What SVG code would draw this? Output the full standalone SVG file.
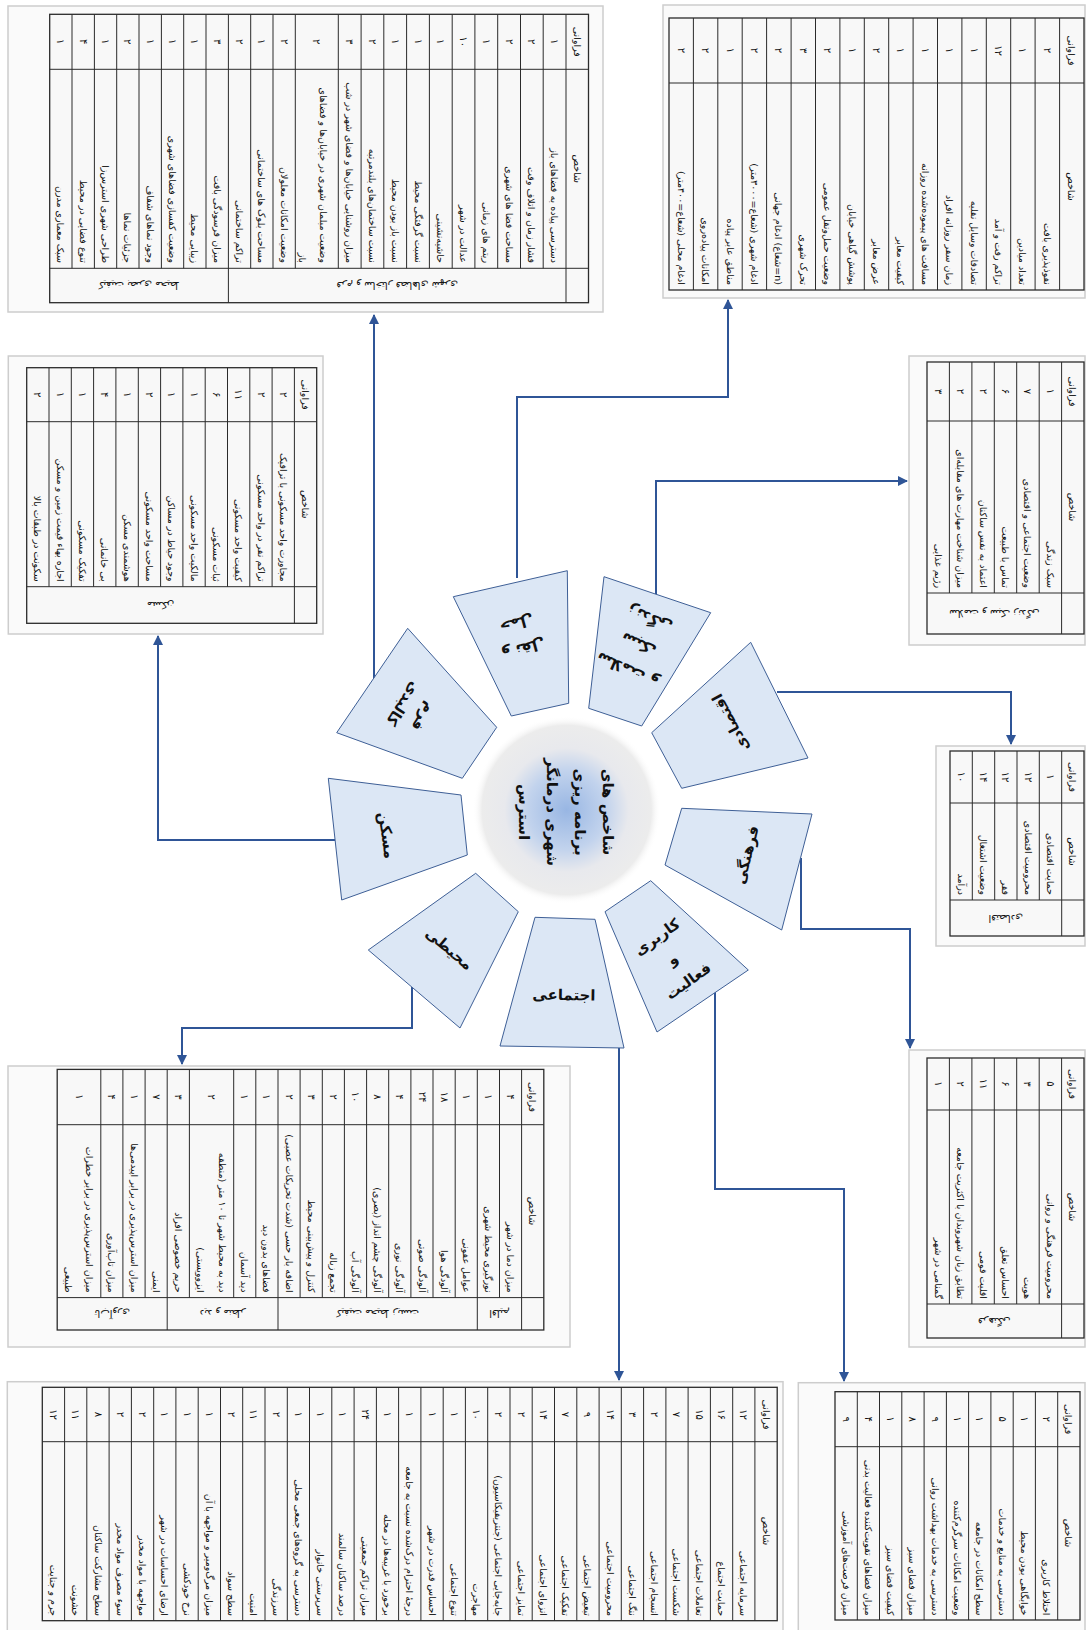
<svg xmlns="http://www.w3.org/2000/svg" width="1086" height="1630" viewBox="0 0 1086 1630">
<style>
.fr{fill:#fafafa;stroke:#cdcdcd;stroke-width:1.5}
.tb{fill:#f8f8f8;stroke:#2b2b2b;stroke-width:1.3}
.ln{fill:none;stroke:#2b2b2b;stroke-width:1}
text{font-family:'DejaVu Sans',sans-serif;fill:#111}
.v{font-size:10px;text-anchor:middle;dominant-baseline:central}
.l{font-size:9.5px;text-anchor:end;dominant-baseline:central}
.h{font-size:9.5px;text-anchor:middle;dominant-baseline:central}
.g{font-size:10px;text-anchor:middle;dominant-baseline:central}
.nd{fill:#dce7f5;stroke:#3e5f96;stroke-width:1}
.nl{font-size:15px;font-weight:bold;text-anchor:middle;dominant-baseline:central}
.ct{font-size:15px;font-weight:bold;text-anchor:middle;dominant-baseline:central}
.cn{fill:none;stroke:#2f5597;stroke-width:2;marker-end:url(#ar)}
</style>
<defs>
<marker id="ar" markerUnits="userSpaceOnUse" markerWidth="11" markerHeight="11" refX="9" refY="5" orient="auto">
<path d="M0,0 L10,5 L0,10 z" fill="#2f5597"/>
</marker>
<radialGradient id="cg" cx="0.5" cy="0.5" r="0.5">
<stop offset="0" stop-color="#98b6e3"/>
<stop offset="0.42" stop-color="#c2d3ed"/>
<stop offset="0.66" stop-color="#e8e9ed"/>
<stop offset="0.9" stop-color="#ececec"/>
<stop offset="1" stop-color="#ffffff" stop-opacity="0"/>
</radialGradient>
</defs>

<g id="connectors">
<path class="cn" d="M374,678 V315"/>
<path class="cn" d="M517,578 V397 H728 V300"/>
<path class="cn" d="M656,594 V481 H907"/>
<path class="cn" d="M777,692 H1011 V744"/>
<path class="cn" d="M801,858 V929 H910 V1048"/>
<path class="cn" d="M715,992 V1189 H844 V1381"/>
<path class="cn" d="M619,1048 V1380"/>
<path class="cn" d="M412,987 V1028 H182 V1064"/>
<path class="cn" d="M335,840 H158 V636"/>
</g>

<!-- T1 top-left -->
<g id="table-kalbadi">
<rect class="fr" x="8" y="6" width="595" height="306"/>
<rect class="tb" x="49.7" y="14.3" width="538.8" height="288.4"/>
<path class="ln" d="M72,14.3V268.3M94.4,14.3V268.3M116.7,14.3V268.3M139,14.3V268.3M161.4,14.3V268.3M183.7,14.3V268.3M206,14.3V268.3M228.4,14.3V302.7M250.7,14.3V268.3M273,14.3V268.3M295.3,14.3V268.3M338.3,14.3V268.3M361.1,14.3V268.3M383.8,14.3V268.3M406.6,14.3V268.3M429.4,14.3V268.3M452.2,14.3V268.3M474.9,14.3V268.3M497.7,14.3V268.3M520.5,14.3V268.3M543.2,14.3V268.3M566,14.3V302.7M49.7,69.3H588.5M49.7,268.3H588.5"/>
<text class="h" transform="translate(577.3 41.8) rotate(90)">فراوانی</text>
<text class="h" transform="translate(577.3 168.8) rotate(90)">شاخص</text>
<text class="v" transform="translate(60.9 41.8) rotate(90)">۱</text>
<text class="v" transform="translate(83.2 41.8) rotate(90)">۴</text>
<text class="v" transform="translate(105.6 41.8) rotate(90)">۱</text>
<text class="v" transform="translate(127.9 41.8) rotate(90)">۲</text>
<text class="v" transform="translate(150.2 41.8) rotate(90)">۱</text>
<text class="v" transform="translate(172.6 41.8) rotate(90)">۱</text>
<text class="v" transform="translate(194.9 41.8) rotate(90)">۱</text>
<text class="v" transform="translate(217.2 41.8) rotate(90)">۳</text>
<text class="v" transform="translate(239.6 41.8) rotate(90)">۲</text>
<text class="v" transform="translate(261.9 41.8) rotate(90)">۱</text>
<text class="v" transform="translate(284.2 41.8) rotate(90)">۲</text>
<text class="v" transform="translate(316.8 41.8) rotate(90)">۲</text>
<text class="v" transform="translate(349.7 41.8) rotate(90)">۳</text>
<text class="v" transform="translate(372.5 41.8) rotate(90)">۲</text>
<text class="v" transform="translate(395.2 41.8) rotate(90)">۱</text>
<text class="v" transform="translate(418 41.8) rotate(90)">۱</text>
<text class="v" transform="translate(440.8 41.8) rotate(90)">۱</text>
<text class="v" transform="translate(463.6 41.8) rotate(90)">۱۰</text>
<text class="v" transform="translate(486.3 41.8) rotate(90)">۱</text>
<text class="v" transform="translate(509.1 41.8) rotate(90)">۲</text>
<text class="v" transform="translate(531.9 41.8) rotate(90)">۲</text>
<text class="v" transform="translate(554.6 41.8) rotate(90)">۱</text>
<text class="l" transform="translate(60.9 263) rotate(90)">سبک معماری مدرن</text>
<text class="l" transform="translate(83.2 263) rotate(90)">تنوع فضایی در محیط</text>
<text class="l" transform="translate(105.6 263) rotate(90)">طراحی شهری استرس‌زا</text>
<text class="l" transform="translate(127.9 263) rotate(90)">جزئیات نماها</text>
<text class="l" transform="translate(150.2 263) rotate(90)">وجود نماهای شفاف</text>
<text class="l" transform="translate(172.6 263) rotate(90)">وضعیت کفسازی فضاهای شهری</text>
<text class="l" transform="translate(194.9 263) rotate(90)">زیبایی محیط</text>
<text class="l" transform="translate(217.2 263) rotate(90)">میزان فرسودگی بافت</text>
<text class="l" transform="translate(239.6 263) rotate(90)">تراکم ساختمانی</text>
<text class="l" transform="translate(261.9 263) rotate(90)">مساحت بلوک های ساختمانی</text>
<text class="l" transform="translate(284.2 263) rotate(90)">وضعیت امکانات معلولان</text>
<text class="l" transform="translate(323.5 263) rotate(90)">وضعیت مبلمان شهری در خیابان‌ها و فضاهای</text>
<text class="l" transform="translate(302 263) rotate(90)">باز</text>
<text class="l" transform="translate(349.7 263) rotate(90)">میزان روشنایی خیابان‌ها و فضای شهر در شب</text>
<text class="l" transform="translate(372.5 263) rotate(90)">نسبت ساختمان‌های بلندمرتبه</text>
<text class="l" transform="translate(395.2 263) rotate(90)">نسبت باز بودن محیط</text>
<text class="l" transform="translate(418 263) rotate(90)">نسبت گرفتگی محیط</text>
<text class="l" transform="translate(440.8 263) rotate(90)">حاشیه‌نشینی</text>
<text class="l" transform="translate(463.6 263) rotate(90)">عدالت در شهر</text>
<text class="l" transform="translate(486.3 263) rotate(90)">ریتم های زمانی</text>
<text class="l" transform="translate(509.1 263) rotate(90)">مساحت فضا های شهری</text>
<text class="l" transform="translate(531.9 263) rotate(90)">فشار زمان و اتلاف وقت</text>
<text class="l" transform="translate(554.6 263) rotate(90)">دسترسی پیاده به فضاهای باز</text>
<text class="g" transform="translate(139 285.5) rotate(180)">کیفیت بصری محیط</text>
<text class="g" transform="translate(397.2 285.5) rotate(180)">فرم و ساختار فضاهای شهری</text>
</g>

<!-- T2 top-right -->
<g id="table-hamlonaghl">
<rect class="fr" x="663" y="5" width="422" height="293"/>
<rect class="tb" x="669" y="18" width="415" height="272"/>
<path class="ln" d="M693.4,18V290M717.8,18V290M742.2,18V290M766.6,18V290M791.1,18V290M815.5,18V290M839.9,18V290M864.3,18V290M888.7,18V290M913.1,18V290M937.5,18V290M961.9,18V290M986.3,18V290M1010.7,18V290M1035.1,18V290M1059.6,18V290M669,83H1084"/>
<text class="h" transform="translate(1071.8 50.5) rotate(90)">فراوانی</text>
<text class="h" transform="translate(1071.8 186.5) rotate(90)">شاخص</text>
<text class="v" transform="translate(681.2 50.5) rotate(90)">۲</text>
<text class="v" transform="translate(705.6 50.5) rotate(90)">۲</text>
<text class="v" transform="translate(730 50.5) rotate(90)">۱</text>
<text class="v" transform="translate(754.4 50.5) rotate(90)">۲</text>
<text class="v" transform="translate(778.8 50.5) rotate(90)">۲</text>
<text class="v" transform="translate(803.3 50.5) rotate(90)">۳</text>
<text class="v" transform="translate(827.7 50.5) rotate(90)">۲</text>
<text class="v" transform="translate(852.1 50.5) rotate(90)">۱</text>
<text class="v" transform="translate(876.5 50.5) rotate(90)">۲</text>
<text class="v" transform="translate(900.9 50.5) rotate(90)">۱</text>
<text class="v" transform="translate(925.3 50.5) rotate(90)">۱</text>
<text class="v" transform="translate(949.7 50.5) rotate(90)">۱</text>
<text class="v" transform="translate(974.1 50.5) rotate(90)">۱</text>
<text class="v" transform="translate(998.5 50.5) rotate(90)">۱۲</text>
<text class="v" transform="translate(1022.9 50.5) rotate(90)">۱</text>
<text class="v" transform="translate(1047.3 50.5) rotate(90)">۲</text>
<text class="l" transform="translate(681.2 285) rotate(90)">&#8207;ادغام محلی (شعاع=۴۰۰متر)&#8207;</text>
<text class="l" transform="translate(705.6 285) rotate(90)">امکانات پیاده‌روی</text>
<text class="l" transform="translate(730 285) rotate(90)">مناطق عابر پیاده</text>
<text class="l" transform="translate(754.4 285) rotate(90)">&#8207;ادغام شهری (شعاع=۳۰۰۰متر)&#8207;</text>
<text class="l" transform="translate(778.8 285) rotate(90)">&#8207;ادغام جهانی (شعاع=n)&#8207;</text>
<text class="l" transform="translate(803.3 285) rotate(90)">تحرک شهری</text>
<text class="l" transform="translate(827.7 285) rotate(90)">وضعیت حمل‌ونقل عمومی</text>
<text class="l" transform="translate(852.1 285) rotate(90)">پوشش گیاهی خیابان</text>
<text class="l" transform="translate(876.5 285) rotate(90)">عرض معابر</text>
<text class="l" transform="translate(900.9 285) rotate(90)">کیفیت معابر</text>
<text class="l" transform="translate(925.3 285) rotate(90)">مسافت های پیموده‌شده روزانه</text>
<text class="l" transform="translate(949.7 285) rotate(90)">زمان سفر روزانه افراد</text>
<text class="l" transform="translate(974.1 285) rotate(90)">تصادفات وسایل نقلیه</text>
<text class="l" transform="translate(998.5 285) rotate(90)">تراکم رفت و آمد</text>
<text class="l" transform="translate(1022.9 285) rotate(90)">تعداد میادین</text>
<text class="l" transform="translate(1047.3 285) rotate(90)">نفوذپذیری بافت</text>
</g>

<!-- T3 right-middle -->
<g id="table-salamat">
<rect class="fr" x="909" y="356" width="176" height="289"/>
<rect class="tb" x="927" y="362" width="157" height="272"/>
<path class="ln" d="M949.4,362V593M971.9,362V593M994.3,362V593M1016.7,362V593M1039.2,362V593M1061.6,362V634M927,421H1084M927,593H1084"/>
<text class="h" transform="translate(1072.8 391.5) rotate(90)">فراوانی</text>
<text class="h" transform="translate(1072.8 507) rotate(90)">شاخص</text>
<text class="v" transform="translate(938.2 391.5) rotate(90)">۳</text>
<text class="v" transform="translate(960.6 391.5) rotate(90)">۲</text>
<text class="v" transform="translate(983.1 391.5) rotate(90)">۲</text>
<text class="v" transform="translate(1005.5 391.5) rotate(90)">۶</text>
<text class="v" transform="translate(1027.9 391.5) rotate(90)">۷</text>
<text class="v" transform="translate(1050.4 391.5) rotate(90)">۱</text>
<text class="l" transform="translate(938.2 588) rotate(90)">رژیم غذایی</text>
<text class="l" transform="translate(960.6 588) rotate(90)">میزان شناخت مهارت های مقابله‌ای</text>
<text class="l" transform="translate(983.1 588) rotate(90)">اعتماد به نفس ساکنان</text>
<text class="l" transform="translate(1005.5 588) rotate(90)">تماس با طبیعت</text>
<text class="l" transform="translate(1027.9 588) rotate(90)">وضعیت اجتماعی و اقتصادی</text>
<text class="l" transform="translate(1050.4 588) rotate(90)">سبک زندگی</text>
<text class="g" transform="translate(994.3 613.5) rotate(180)">سلامت و سبک زندگی</text>
</g>

<!-- T4 right small -->
<g id="table-eqtesadi">
<rect class="fr" x="936" y="746" width="149" height="200"/>
<rect class="tb" x="950" y="751" width="134" height="185"/>
<path class="ln" d="M972.3,751V900M994.7,751V900M1017,751V900M1039.3,751V900M1061.7,751V936M950,803H1084M950,900H1084"/>
<text class="h" transform="translate(1072.8 777) rotate(90)">فراوانی</text>
<text class="h" transform="translate(1072.8 851.5) rotate(90)">شاخص</text>
<text class="v" transform="translate(961.2 777) rotate(90)">۱۰</text>
<text class="v" transform="translate(983.5 777) rotate(90)">۱۴</text>
<text class="v" transform="translate(1005.8 777) rotate(90)">۱۲</text>
<text class="v" transform="translate(1028.2 777) rotate(90)">۱۲</text>
<text class="v" transform="translate(1050.5 777) rotate(90)">۱</text>
<text class="l" transform="translate(961.2 895) rotate(90)">درآمد</text>
<text class="l" transform="translate(983.5 895) rotate(90)">وضعیت اشتغال</text>
<text class="l" transform="translate(1005.8 895) rotate(90)">فقر</text>
<text class="l" transform="translate(1028.2 895) rotate(90)">محرومیت اقتصادی</text>
<text class="l" transform="translate(1050.5 895) rotate(90)">حمایت اقتصادی</text>
<text class="g" transform="translate(1005.8 918) rotate(180)">اقتصادی</text>
</g>

<!-- T5 right-bottom -->
<g id="table-farhangi">
<rect class="fr" x="909" y="1050" width="176" height="297"/>
<rect class="tb" x="927" y="1058" width="157" height="280"/>
<path class="ln" d="M949.4,1058V1304M971.9,1058V1304M994.3,1058V1304M1016.7,1058V1304M1039.2,1058V1304M1061.6,1058V1338M927,1110H1084M927,1304H1084"/>
<text class="h" transform="translate(1072.8 1084) rotate(90)">فراوانی</text>
<text class="h" transform="translate(1072.8 1207) rotate(90)">شاخص</text>
<text class="v" transform="translate(938.2 1084) rotate(90)">۱</text>
<text class="v" transform="translate(960.6 1084) rotate(90)">۲</text>
<text class="v" transform="translate(983.1 1084) rotate(90)">۱۱</text>
<text class="v" transform="translate(1005.5 1084) rotate(90)">۶</text>
<text class="v" transform="translate(1027.9 1084) rotate(90)">۳</text>
<text class="v" transform="translate(1050.4 1084) rotate(90)">۵</text>
<text class="l" transform="translate(938.2 1299) rotate(90)">گمنامی در شهر</text>
<text class="l" transform="translate(960.6 1299) rotate(90)">تطابق زبان شهروندان با اکثریت جامعه</text>
<text class="l" transform="translate(983.1 1299) rotate(90)">اقلیت قومی</text>
<text class="l" transform="translate(1005.5 1299) rotate(90)">احساس تعلق</text>
<text class="l" transform="translate(1027.9 1299) rotate(90)">هویت</text>
<text class="l" transform="translate(1050.4 1299) rotate(90)">محرومیت فرهنگی و روانی</text>
<text class="g" transform="translate(994.3 1321) rotate(180)">فرهنگی</text>
</g>

<!-- T6 left-middle -->
<g id="table-maskan">
<rect class="fr" x="8.3" y="356" width="314.7" height="278"/>
<rect class="tb" x="26.7" y="367.7" width="290" height="255.6"/>
<path class="ln" d="M49,367.7V586.7M71.3,367.7V586.7M93.6,367.7V586.7M115.9,367.7V586.7M138.3,367.7V586.7M160.6,367.7V586.7M182.9,367.7V586.7M205.2,367.7V586.7M227.5,367.7V586.7M249.8,367.7V586.7M272.1,367.7V586.7M294.4,367.7V623.3M26.7,421.7H316.7M26.7,586.7H316.7"/>
<text class="h" transform="translate(305.6 394.7) rotate(90)">فراوانی</text>
<text class="h" transform="translate(305.6 504.2) rotate(90)">شاخص</text>
<text class="v" transform="translate(37.9 394.7) rotate(90)">۲</text>
<text class="v" transform="translate(60.2 394.7) rotate(90)">۱</text>
<text class="v" transform="translate(82.5 394.7) rotate(90)">۱</text>
<text class="v" transform="translate(104.8 394.7) rotate(90)">۴</text>
<text class="v" transform="translate(127.1 394.7) rotate(90)">۱</text>
<text class="v" transform="translate(149.4 394.7) rotate(90)">۲</text>
<text class="v" transform="translate(171.7 394.7) rotate(90)">۱</text>
<text class="v" transform="translate(194 394.7) rotate(90)">۱</text>
<text class="v" transform="translate(216.4 394.7) rotate(90)">۶</text>
<text class="v" transform="translate(238.7 394.7) rotate(90)">۱۱</text>
<text class="v" transform="translate(261 394.7) rotate(90)">۲</text>
<text class="v" transform="translate(283.3 394.7) rotate(90)">۲</text>
<text class="l" transform="translate(37.9 581.7) rotate(90)">سکونت در طبقات بالا</text>
<text class="l" transform="translate(60.2 581.7) rotate(90)">اجاره بهاء قیمت زمین و مسکن</text>
<text class="l" transform="translate(82.5 581.7) rotate(90)">تفکیک مسکونی</text>
<text class="l" transform="translate(104.8 581.7) rotate(90)">بی خانمانی</text>
<text class="l" transform="translate(127.1 581.7) rotate(90)">هوشمندی مسکن</text>
<text class="l" transform="translate(149.4 581.7) rotate(90)">مساحت واحد مسکونی</text>
<text class="l" transform="translate(171.7 581.7) rotate(90)">وجود حیاط در مساکن</text>
<text class="l" transform="translate(194 581.7) rotate(90)">مالکیت واحد مسکونی</text>
<text class="l" transform="translate(216.4 581.7) rotate(90)">ثبات مسکونی</text>
<text class="l" transform="translate(238.7 581.7) rotate(90)">کیفیت واحد مسکونی</text>
<text class="l" transform="translate(261 581.7) rotate(90)">تراکم نفر در واحد مسکونی</text>
<text class="l" transform="translate(283.3 581.7) rotate(90)">مجاورت واحد مسکونی با ترافیک</text>
<text class="g" transform="translate(160.6 605) rotate(180)">مسکن</text>
</g>

<!-- T7 left-bottom -->
<g id="table-mohiti">
<rect class="fr" x="8" y="1066" width="562" height="281"/>
<rect class="tb" x="57.2" y="1069.4" width="486.6" height="260.6"/>
<path class="ln" d="M100.8,1069.4V1297.6M122.9,1069.4V1297.6M145.1,1069.4V1297.6M167.2,1069.4V1330M189.4,1069.4V1297.6M233.7,1069.4V1297.6M255.8,1069.4V1297.6M278,1069.4V1330M300.1,1069.4V1297.6M322.3,1069.4V1297.6M344.4,1069.4V1297.6M366.6,1069.4V1297.6M388.7,1069.4V1297.6M410.9,1069.4V1297.6M433,1069.4V1297.6M455.2,1069.4V1297.6M477.3,1069.4V1330M499.5,1069.4V1297.6M521.6,1069.4V1330M57.2,1124.7H543.8M57.2,1297.6H543.8"/>
<text class="h" transform="translate(532.7 1097) rotate(90)">فراوانی</text>
<text class="h" transform="translate(532.7 1211) rotate(90)">شاخص</text>
<text class="v" transform="translate(79 1097) rotate(90)">۱</text>
<text class="v" transform="translate(111.9 1097) rotate(90)">۴</text>
<text class="v" transform="translate(134 1097) rotate(90)">۱</text>
<text class="v" transform="translate(156.2 1097) rotate(90)">۷</text>
<text class="v" transform="translate(178.3 1097) rotate(90)">۳</text>
<text class="v" transform="translate(211.6 1097) rotate(90)">۲</text>
<text class="v" transform="translate(244.8 1097) rotate(90)">۱</text>
<text class="v" transform="translate(266.9 1097) rotate(90)">۱</text>
<text class="v" transform="translate(289.1 1097) rotate(90)">۲</text>
<text class="v" transform="translate(311.2 1097) rotate(90)">۳</text>
<text class="v" transform="translate(333.4 1097) rotate(90)">۲</text>
<text class="v" transform="translate(355.5 1097) rotate(90)">۱۰</text>
<text class="v" transform="translate(377.7 1097) rotate(90)">۸</text>
<text class="v" transform="translate(399.8 1097) rotate(90)">۴</text>
<text class="v" transform="translate(422 1097) rotate(90)">۲۴</text>
<text class="v" transform="translate(444.1 1097) rotate(90)">۱۸</text>
<text class="v" transform="translate(466.3 1097) rotate(90)">۱</text>
<text class="v" transform="translate(488.4 1097) rotate(90)">۱</text>
<text class="v" transform="translate(510.6 1097) rotate(90)">۴</text>
<text class="l" transform="translate(89 1292.6) rotate(90)">میزان استرس‌پذیری در برابر خطرات</text>
<text class="l" transform="translate(68 1292.6) rotate(90)">طبیعی</text>
<text class="l" transform="translate(111.9 1292.6) rotate(90)">میزان تاب‌آوری</text>
<text class="l" transform="translate(134 1292.6) rotate(90)">میزان استرس‌پذیری در برابر اپیدمی‌ها</text>
<text class="l" transform="translate(156.2 1292.6) rotate(90)">ایمنی</text>
<text class="l" transform="translate(178.3 1292.6) rotate(90)">حریم خصوصی افراد</text>
<text class="l" transform="translate(222 1292.6) rotate(90)">&#8207;دید به محیط شهر تا ۱۰ متر (منطقه&#8207;</text>
<text class="l" transform="translate(200 1292.6) rotate(90)">&#8207;ایزوویستی)&#8207;</text>
<text class="l" transform="translate(244.8 1292.6) rotate(90)">دید آسمان</text>
<text class="l" transform="translate(266.9 1292.6) rotate(90)">فضاهای بدون دید</text>
<text class="l" transform="translate(289.1 1292.6) rotate(90)">&#8207;اضافه بار حسی (شدت تحریکات عصبی)&#8207;</text>
<text class="l" transform="translate(311.2 1292.6) rotate(90)">کنترل و پیش‌بینی محیط</text>
<text class="l" transform="translate(333.4 1292.6) rotate(90)">تجمع زباله</text>
<text class="l" transform="translate(355.5 1292.6) rotate(90)">آلودگی آب</text>
<text class="l" transform="translate(377.7 1292.6) rotate(90)">&#8207;آلودگی چشم انداز (بصری)&#8207;</text>
<text class="l" transform="translate(399.8 1292.6) rotate(90)">آلودگی نوری</text>
<text class="l" transform="translate(422 1292.6) rotate(90)">آلودگی صوتی</text>
<text class="l" transform="translate(444.1 1292.6) rotate(90)">آلودگی هوا</text>
<text class="l" transform="translate(466.3 1292.6) rotate(90)">عوامل عفونی</text>
<text class="l" transform="translate(488.4 1292.6) rotate(90)">نورگیری محیط شهری</text>
<text class="l" transform="translate(510.6 1292.6) rotate(90)">میزان دما در شهر</text>
<text class="g" transform="translate(112.2 1313.8) rotate(180)">تاب‌آوری</text>
<text class="g" transform="translate(222.6 1313.8) rotate(180)">دید و منظر</text>
<text class="g" transform="translate(377.7 1313.8) rotate(180)">کیفیت محیط زیست</text>
<text class="g" transform="translate(499.5 1313.8) rotate(180)">اقلیم</text>
</g>

<!-- T8 bottom-left -->
<g id="table-ejtemaei">
<rect class="fr" x="7.3" y="1381.7" width="775.7" height="260"/>
<rect class="tb" x="42.3" y="1387.3" width="734.9" height="233.4"/>
<path class="ln" d="M64.6,1387.3V1620.7M86.8,1387.3V1620.7M109.1,1387.3V1620.7M131.4,1387.3V1620.7M153.7,1387.3V1620.7M175.9,1387.3V1620.7M198.2,1387.3V1620.7M220.5,1387.3V1620.7M242.7,1387.3V1620.7M265,1387.3V1620.7M287.3,1387.3V1620.7M309.5,1387.3V1620.7M331.8,1387.3V1620.7M354.1,1387.3V1620.7M376.4,1387.3V1620.7M398.6,1387.3V1620.7M420.9,1387.3V1620.7M443.2,1387.3V1620.7M465.4,1387.3V1620.7M487.7,1387.3V1620.7M510,1387.3V1620.7M532.2,1387.3V1620.7M554.5,1387.3V1620.7M576.8,1387.3V1620.7M599.1,1387.3V1620.7M621.3,1387.3V1620.7M643.6,1387.3V1620.7M665.9,1387.3V1620.7M688.1,1387.3V1620.7M710.4,1387.3V1620.7M732.7,1387.3V1620.7M754.9,1387.3V1620.7M42.3,1441.7H777.2"/>
<text class="h" transform="translate(766 1414.5) rotate(90)">فراوانی</text>
<text class="h" transform="translate(766 1531) rotate(90)">شاخص</text>
<text class="v" transform="translate(53.4 1414.5) rotate(90)">۱۲</text>
<text class="v" transform="translate(75.7 1414.5) rotate(90)">۱۱</text>
<text class="v" transform="translate(98 1414.5) rotate(90)">۸</text>
<text class="v" transform="translate(120.2 1414.5) rotate(90)">۲</text>
<text class="v" transform="translate(142.5 1414.5) rotate(90)">۲</text>
<text class="v" transform="translate(164.8 1414.5) rotate(90)">۱</text>
<text class="v" transform="translate(187 1414.5) rotate(90)">۱</text>
<text class="v" transform="translate(209.3 1414.5) rotate(90)">۱</text>
<text class="v" transform="translate(231.6 1414.5) rotate(90)">۲</text>
<text class="v" transform="translate(253.8 1414.5) rotate(90)">۱۱</text>
<text class="v" transform="translate(276.1 1414.5) rotate(90)">۲</text>
<text class="v" transform="translate(298.4 1414.5) rotate(90)">۱</text>
<text class="v" transform="translate(320.6 1414.5) rotate(90)">۱</text>
<text class="v" transform="translate(342.9 1414.5) rotate(90)">۱</text>
<text class="v" transform="translate(365.2 1414.5) rotate(90)">۲۴</text>
<text class="v" transform="translate(387.5 1414.5) rotate(90)">۱</text>
<text class="v" transform="translate(409.7 1414.5) rotate(90)">۱</text>
<text class="v" transform="translate(432 1414.5) rotate(90)">۱</text>
<text class="v" transform="translate(454.3 1414.5) rotate(90)">۱</text>
<text class="v" transform="translate(476.5 1414.5) rotate(90)">۱۰</text>
<text class="v" transform="translate(498.8 1414.5) rotate(90)">۲</text>
<text class="v" transform="translate(521.1 1414.5) rotate(90)">۲</text>
<text class="v" transform="translate(543.3 1414.5) rotate(90)">۱۴</text>
<text class="v" transform="translate(565.6 1414.5) rotate(90)">۷</text>
<text class="v" transform="translate(587.9 1414.5) rotate(90)">۹</text>
<text class="v" transform="translate(610.1 1414.5) rotate(90)">۱۴</text>
<text class="v" transform="translate(632.4 1414.5) rotate(90)">۳</text>
<text class="v" transform="translate(654.7 1414.5) rotate(90)">۲</text>
<text class="v" transform="translate(676.9 1414.5) rotate(90)">۷</text>
<text class="v" transform="translate(699.2 1414.5) rotate(90)">۱۵</text>
<text class="v" transform="translate(721.5 1414.5) rotate(90)">۱۶</text>
<text class="v" transform="translate(743.7 1414.5) rotate(90)">۱۲</text>
<text class="l" transform="translate(53.4 1616) rotate(90)">جرم و جنایت</text>
<text class="l" transform="translate(75.7 1616) rotate(90)">خشونت</text>
<text class="l" transform="translate(98 1616) rotate(90)">سطح مشارکت ساکنان</text>
<text class="l" transform="translate(120.2 1616) rotate(90)">سوء مصرف مواد مخدر</text>
<text class="l" transform="translate(142.5 1616) rotate(90)">مواجهه با مواد مخدر</text>
<text class="l" transform="translate(164.8 1616) rotate(90)">ارضای احساسات در شهر</text>
<text class="l" transform="translate(187 1616) rotate(90)">نرخ خودکشی</text>
<text class="l" transform="translate(209.3 1616) rotate(90)">میزان مرگ‌ومیر و مواجهه با آن</text>
<text class="l" transform="translate(231.6 1616) rotate(90)">سطح سواد</text>
<text class="l" transform="translate(253.8 1616) rotate(90)">امنیت</text>
<text class="l" transform="translate(276.1 1616) rotate(90)">سرزندگی</text>
<text class="l" transform="translate(298.4 1616) rotate(90)">دسترسی به گروه‌های جمعی محلی</text>
<text class="l" transform="translate(320.6 1616) rotate(90)">سرپرستی خانوار</text>
<text class="l" transform="translate(342.9 1616) rotate(90)">درصد ساکنان سالمند</text>
<text class="l" transform="translate(365.2 1616) rotate(90)">میزان تراکم جمعیتی</text>
<text class="l" transform="translate(387.5 1616) rotate(90)">برخورد با غریبه‌ها در محله</text>
<text class="l" transform="translate(409.7 1616) rotate(90)">درجهٔ احترام درک‌شده نسبت به جامعه</text>
<text class="l" transform="translate(432 1616) rotate(90)">احساس قدرت در شهر</text>
<text class="l" transform="translate(454.3 1616) rotate(90)">تنوع اجتماعی</text>
<text class="l" transform="translate(476.5 1616) rotate(90)">مهاجرت</text>
<text class="l" transform="translate(498.8 1616) rotate(90)">&#8207;جابه‌جایی اجتماعی (جنتریفیکاسیون)&#8207;</text>
<text class="l" transform="translate(521.1 1616) rotate(90)">تمایز اجتماعی</text>
<text class="l" transform="translate(543.3 1616) rotate(90)">انزوای اجتماعی</text>
<text class="l" transform="translate(565.6 1616) rotate(90)">تفکیک اجتماعی</text>
<text class="l" transform="translate(587.9 1616) rotate(90)">تبعیض اجتماعی</text>
<text class="l" transform="translate(610.1 1616) rotate(90)">محرومیت اجتماعی</text>
<text class="l" transform="translate(632.4 1616) rotate(90)">ننگ اجتماعی</text>
<text class="l" transform="translate(654.7 1616) rotate(90)">انسجام اجتماعی</text>
<text class="l" transform="translate(676.9 1616) rotate(90)">شکست اجتماعی</text>
<text class="l" transform="translate(699.2 1616) rotate(90)">تعاملات اجتماعی</text>
<text class="l" transform="translate(721.5 1616) rotate(90)">حمایت اجتماع</text>
<text class="l" transform="translate(743.7 1616) rotate(90)">سرمایه اجتماعی</text>
</g>

<!-- T9 bottom-right -->
<g id="table-karbari">
<rect class="fr" x="798.3" y="1382.7" width="286.7" height="260"/>
<rect class="tb" x="835" y="1391.7" width="245" height="228.3"/>
<path class="ln" d="M857.3,1391.7V1620M879.5,1391.7V1620M901.8,1391.7V1620M924.1,1391.7V1620M946.4,1391.7V1620M968.6,1391.7V1620M990.9,1391.7V1620M1013.2,1391.7V1620M1035.4,1391.7V1620M1057.7,1391.7V1620M835,1446.7H1080"/>
<text class="h" transform="translate(1068.8 1419.2) rotate(90)">فراوانی</text>
<text class="h" transform="translate(1068.8 1533) rotate(90)">شاخص</text>
<text class="v" transform="translate(846.1 1419.2) rotate(90)">۹</text>
<text class="v" transform="translate(868.4 1419.2) rotate(90)">۴</text>
<text class="v" transform="translate(890.7 1419.2) rotate(90)">۱</text>
<text class="v" transform="translate(912.9 1419.2) rotate(90)">۸</text>
<text class="v" transform="translate(935.2 1419.2) rotate(90)">۹</text>
<text class="v" transform="translate(957.5 1419.2) rotate(90)">۱</text>
<text class="v" transform="translate(979.7 1419.2) rotate(90)">۱</text>
<text class="v" transform="translate(1002 1419.2) rotate(90)">۵</text>
<text class="v" transform="translate(1024.3 1419.2) rotate(90)">۱</text>
<text class="v" transform="translate(1046.6 1419.2) rotate(90)">۲</text>
<text class="l" transform="translate(846.1 1615.5) rotate(90)">میزان فرصت‌های آموزشی</text>
<text class="l" transform="translate(868.4 1615.5) rotate(90)">میزان فضاهای تقویت‌کننده فعالیت بدنی</text>
<text class="l" transform="translate(890.7 1615.5) rotate(90)">کیفیت فضای سبز</text>
<text class="l" transform="translate(912.9 1615.5) rotate(90)">میزان فضای سبز</text>
<text class="l" transform="translate(935.2 1615.5) rotate(90)">دسترسی به خدمات بهداشت روانی</text>
<text class="l" transform="translate(957.5 1615.5) rotate(90)">وضعیت امکانات سرگرم‌کننده</text>
<text class="l" transform="translate(979.7 1615.5) rotate(90)">سطح امکانات در جامعه</text>
<text class="l" transform="translate(1002 1615.5) rotate(90)">دسترسی به منابع و خدمات</text>
<text class="l" transform="translate(1024.3 1615.5) rotate(90)">خوابگاهی بودن محیط</text>
<text class="l" transform="translate(1046.6 1615.5) rotate(90)">اختلاط کاربری</text>
</g>

<!-- center -->
<g id="center">
<circle cx="566.7" cy="810" r="94" fill="url(#cg)"/>
<text class="ct" transform="translate(566 812) rotate(90)"><tspan x="0" y="-42">شاخص های</tspan><tspan x="0" y="-14">برنامه ریزی</tspan><tspan x="0" y="14">شهری درمانگر</tspan><tspan x="0" y="42">استرس</tspan></text>
</g>

<g id="node-maskan">
<polygon class="nd" points="328.3,778.3 461,795 467.3,855 341.7,900"/>
<text class="nl" transform="translate(386.5 835.3) rotate(82)">مسکن</text>
</g>
<g id="node-kalbadi">
<polygon class="nd" points="407.7,628.3 496.7,727.3 462.3,778.3 336.7,732.7"/>
<text class="nl" transform="translate(413.2 710.3) rotate(123)"><tspan x="0" y="-12">فرم</tspan><tspan x="0" y="12">کالبدی</tspan></text>
</g>
<g id="node-hamlonaghl">
<polygon class="nd" points="453.3,596.7 567.3,570.7 568.7,703.3 511.3,716"/>
<text class="nl" transform="translate(520.1 636.1) rotate(165)"><tspan x="0" y="-13">و نقل</tspan><tspan x="0" y="13">حمل</tspan></text>
</g>
<g id="node-salamat">
<polygon class="nd" points="604,576.7 710.7,612.7 641.7,726 588.7,708.3"/>
<text class="nl" transform="translate(638.9 644) rotate(-156.5)"><tspan x="0" y="-28">سلامت و</tspan><tspan x="0" y="0">سبک</tspan><tspan x="0" y="28">زندگی</tspan></text>
</g>
<g id="node-eqtesadi">
<polygon class="nd" points="651.7,732.7 750.7,642.3 808,758 681.7,788.3"/>
<text class="nl" transform="translate(730.9 722.7) rotate(-118)">اقتصادی</text>
</g>
<g id="node-farhangi">
<polygon class="nd" points="681.7,808.3 812,814 781.7,930 665,865"/>
<text class="nl" transform="translate(746.7 855) rotate(-76)">فرهنگی</text>
</g>
<g id="node-karbari">
<polygon class="nd" points="650.7,880.7 748.3,970 657,1032 605,911.7"/>
<text class="nl" transform="translate(672.7 959.2) rotate(-35.4)"><tspan x="0" y="-27">کاربری</tspan><tspan x="0" y="0">و</tspan><tspan x="0" y="27">فعالیت</tspan></text>
</g>
<g id="node-ejtemaei">
<polygon class="nd" points="535,917.3 595,919.3 624,1048 500,1046"/>
<text class="nl" transform="translate(564 995) rotate(1)">اجتماعی</text>
</g>
<g id="node-mohiti">
<polygon class="nd" points="475.7,873.3 518.3,911.7 460,1028 368.3,950"/>
<text class="nl" transform="translate(449.2 949) rotate(40.2)">محیطی</text>
</g>
</svg>
